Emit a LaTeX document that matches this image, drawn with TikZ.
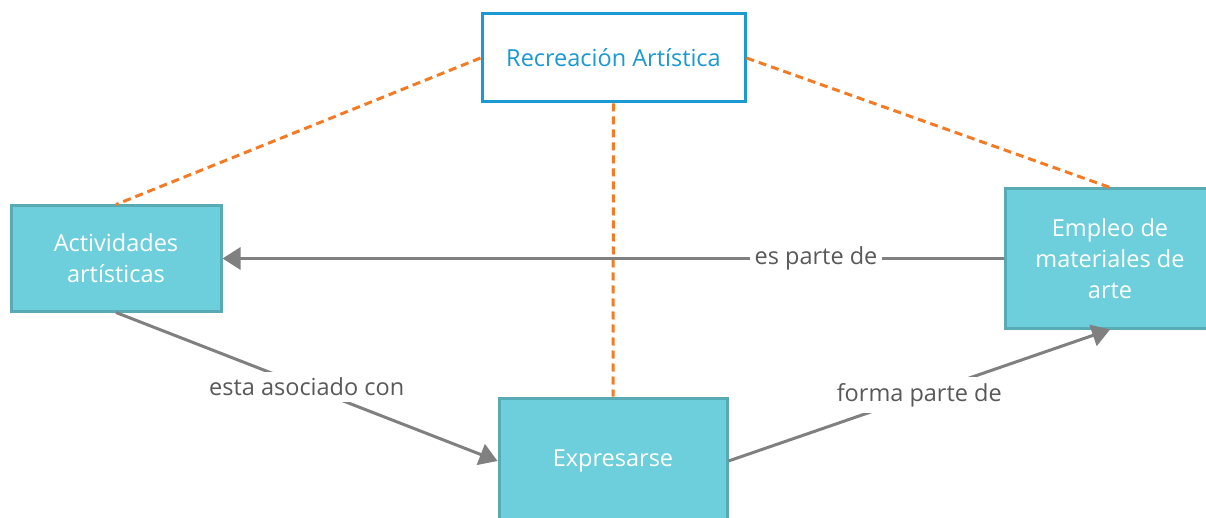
\documentclass[tikz,border=0pt]{standalone}
\usepackage{fontspec}
\setmainfont{Open Sans}
\usetikzlibrary{arrows.meta}
\definecolor{tealfill}{RGB}{109,207,220}
\definecolor{tealdraw}{RGB}{88,170,181}
\definecolor{topblue}{RGB}{26,153,210}
\definecolor{dashorange}{RGB}{244,123,36}
\definecolor{linegray}{RGB}{128,128,128}
\definecolor{labelgray}{RGB}{89,89,89}
\tikzset{
  conceptbox/.style={draw=tealdraw, fill=tealfill, line width=3pt, text=white, align=center, inner sep=0pt, font=\fontsize{23.5}{31}\selectfont},
  topbox/.style={draw=topblue, fill=white, line width=3pt, text=topblue, align=center, inner sep=0pt, font=\fontsize{23.5}{31}\selectfont},
  orangedash/.style={draw=dashorange, line width=3pt, dash pattern=on 8pt off 5pt},
  grayline/.style={draw=linegray, line width=3pt},
  grayarrow/.style={grayline, -{Triangle[length=18pt,width=22pt]}},
  linklabel/.style={fill=white, text=labelgray, inner xsep=5pt, inner ysep=6pt, font=\fontsize{23.5}{28}\selectfont}
}
\begin{document}
\begin{tikzpicture}[x=1pt,y=-1pt]
\useasboundingbox (0,0) rectangle (1206,518);
\clip (0,0) rectangle (1206,518);
\node[topbox, minimum width=263pt, minimum height=88pt] (top) at (613.5,58) {Recreación Artística};
\node[conceptbox, minimum width=210pt, minimum height=105pt] (left) at (116,258.5) {Actividades\\artísticas};
\node[conceptbox, minimum width=210pt, minimum height=139pt] (right) at (1110,258.5) {Empleo de\\materiales de\\arte};
\node[conceptbox, minimum width=228pt, minimum height=126pt] (bottom) at (613,461) {Expresarse};
\draw[orangedash] (top.west) -- (left.north);
\draw[orangedash] (top.east) -- (right.north);
\draw[orangedash] (top.south) -- (bottom.north);
\draw[grayarrow] (right.west) -- node[linklabel, pos=0.24] {es parte de} (left.east);
\draw[grayarrow] (left.south) -- node[linklabel] {esta asociado con} (bottom.west);
\draw[grayarrow] (bottom.east) -- node[linklabel] {forma parte de} (right.south);
\end{tikzpicture}
\end{document}
